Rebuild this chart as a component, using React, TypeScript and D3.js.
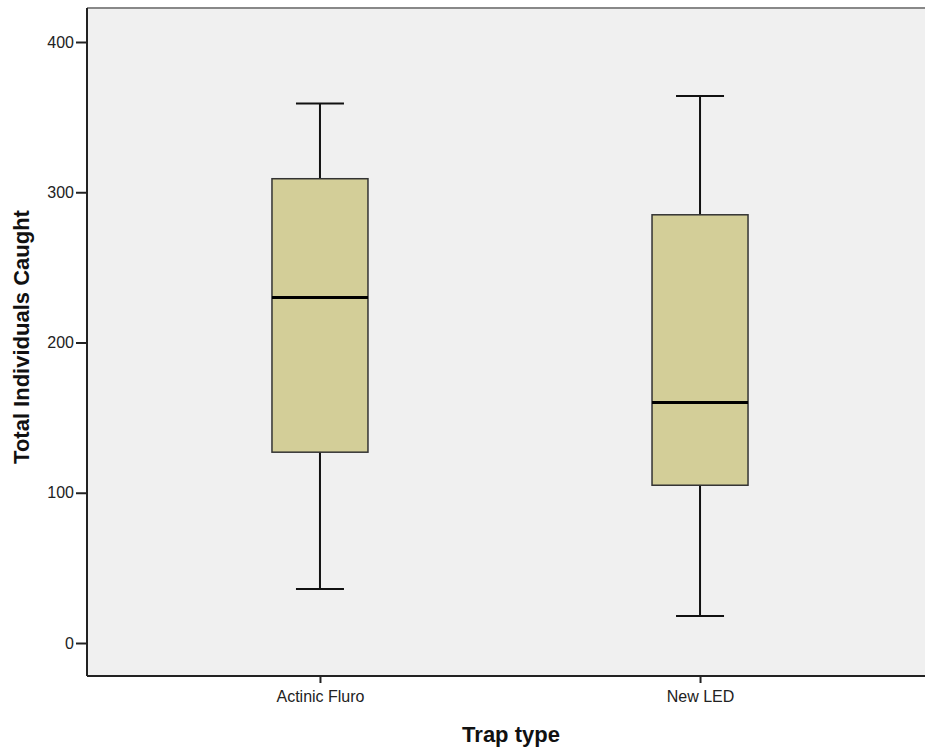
import React, { useEffect, useRef } from 'react';
import * as d3 from 'd3';

// trap types and five-number summaries
const categories = ['Actinic Fluro', 'New LED'];
const whiskerLow = [36, 18];
const q1 = [127, 105];
const medians = [230, 160];
const q3 = [309, 285];
const whiskerHigh = [359, 364];
const yTicks = [0, 100, 200, 300, 400];

const width = 925;
const height = 752;
const margins = { top: 8, right: 0, bottom: 76, left: 87 };
const font = 'Liberation Sans, Arial, sans-serif';

const App: React.FC = () => {
    const svgRef = useRef<SVGSVGElement>(null);

    useEffect(() => {
        const svg = d3.select(svgRef.current);
        svg.selectAll('*').remove();

        const plotW = width - margins.left - margins.right;
        const plotH = height - margins.top - margins.bottom;

        // scales
        const x = d3.scalePoint<string>()
            .domain(categories)
            .range([0, plotW + 8])
            .padding(0.613);
        const y = d3.scaleLinear().domain([0, 400]).range([635, 34]);

        const g = svg.append('g').attr('transform', `translate(${margins.left},${margins.top})`);

        // background
        g.append('rect')
            .attr('width', plotW + 10)
            .attr('height', plotH)
            .attr('fill', '#f0f0f0');
        g.append('line')
            .attr('x1', 0).attr('x2', plotW + 10)
            .attr('y1', 0).attr('y2', 0)
            .attr('stroke', '#888').attr('stroke-width', 2);

        // boxes
        const boxW = 96;
        const capW = 48;
        const data = categories.map((c, i) => ({
            c, lo: whiskerLow[i], q1: q1[i], med: medians[i], q3: q3[i], hi: whiskerHigh[i],
        }));
        const box = g.selectAll('g.box').data(data).enter().append('g').attr('class', 'box')
            .attr('transform', d => `translate(${x(d.c)},0)`);
        box.append('line')
            .attr('x1', 0).attr('x2', 0)
            .attr('y1', d => y(d.lo)).attr('y2', d => y(d.hi))
            .attr('stroke', '#111').attr('stroke-width', 2);
        [d => d.lo, d => d.hi].forEach((f: (d: any) => number) => {
            box.append('line')
                .attr('x1', -capW / 2).attr('x2', capW / 2)
                .attr('y1', d => y(f(d))).attr('y2', d => y(f(d)))
                .attr('stroke', '#111').attr('stroke-width', 2);
        });
        box.append('rect')
            .attr('x', -boxW / 2).attr('width', boxW)
            .attr('y', d => y(d.q3)).attr('height', d => y(d.q1) - y(d.q3))
            .attr('fill', '#d3ce98').attr('stroke', '#333').attr('stroke-width', 1.5);
        box.append('line')
            .attr('x1', -boxW / 2).attr('x2', boxW / 2)
            .attr('y1', d => y(d.med)).attr('y2', d => y(d.med))
            .attr('stroke', '#000').attr('stroke-width', 3);

        // axes
        const yAxis = d3.axisLeft(y).tickValues(yTicks).tickSize(11).tickPadding(2);
        const ya = g.append('g').call(yAxis);
        ya.select('.domain').remove();
        ya.selectAll('line').attr('stroke', '#222').attr('stroke-width', 2);
        ya.selectAll('text').attr('font-family', font)
            .attr('font-size', 16).attr('fill', '#222');
        g.append('line')
            .attr('x1', 0).attr('x2', 0).attr('y1', 0).attr('y2', plotH)
            .attr('stroke', '#222').attr('stroke-width', 2);

        const xAxis = d3.axisBottom(x).tickSize(7).tickPadding(8);
        const xa = g.append('g').attr('transform', `translate(0,${plotH})`).call(xAxis);
        xa.select('.domain').remove();
        xa.selectAll('line').attr('stroke', '#222').attr('stroke-width', 2);
        xa.selectAll('text').attr('font-family', font)
            .attr('font-size', 16).attr('fill', '#222');
        g.append('line')
            .attr('x1', 0).attr('x2', plotW + 10).attr('y1', plotH).attr('y2', plotH)
            .attr('stroke', '#222').attr('stroke-width', 2);

        // titles
        svg.append('text')
            .attr('x', 511).attr('y', 742)
            .attr('text-anchor', 'middle')
            .attr('font-family', font)
            .attr('font-weight', 'bold').attr('font-size', 22)
            .attr('fill', '#111')
            .text('Trap type');
        svg.append('text')
            .attr('transform', 'translate(29,337) rotate(-90)')
            .attr('text-anchor', 'middle')
            .attr('font-family', font)
            .attr('font-weight', 'bold').attr('font-size', 22)
            .attr('fill', '#111')
            .text('Total Individuals Caught');
    }, []);

    return (
        <svg ref={svgRef} width={width} height={height}
            style={{ position: 'absolute', left: 0, top: 0, background: '#fff' }} />
    );
};

export default App;
